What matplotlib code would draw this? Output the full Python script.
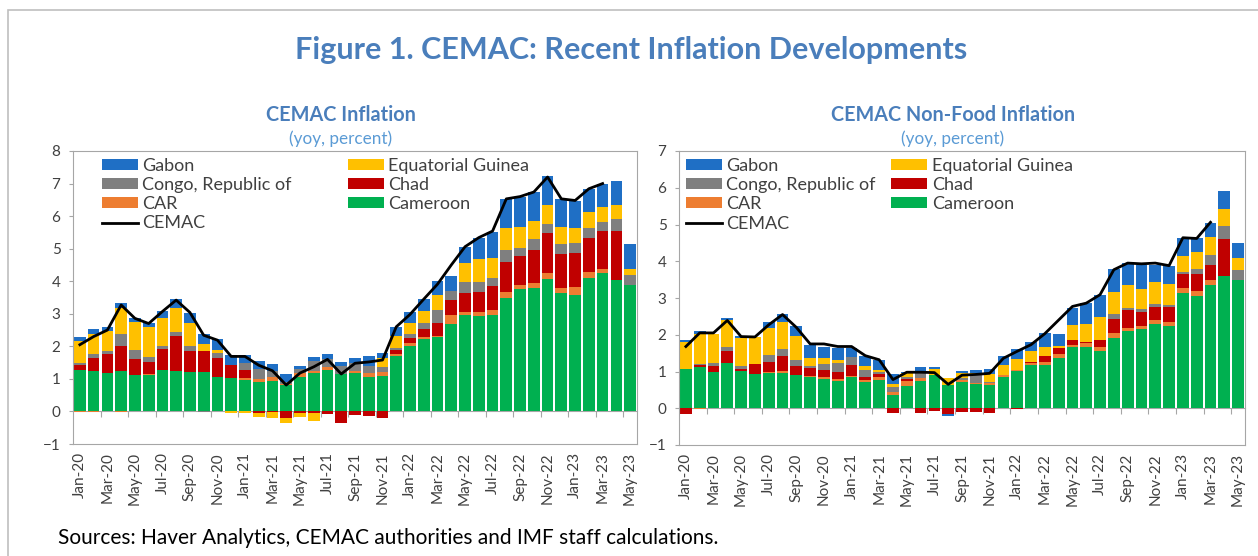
import numpy as np
import pandas as pd
import matplotlib.pyplot as plt
from matplotlib.patches import Rectangle

plt.rcParams["font.family"] = ["Lato", "DejaVu Sans"]

months = pd.date_range("2020-01-01", "2023-05-01", freq="MS").strftime("%b-%y").tolist()

series_order = ["Cameroon", "CAR", "Chad", "Congo, Republic of", "Equatorial Guinea", "Gabon"]
colors = {
    "Cameroon": "#00B050",
    "CAR": "#ED7D31",
    "Chad": "#C00000",
    "Congo, Republic of": "#7F7F7F",
    "Equatorial Guinea": "#FFC000",
    "Gabon": "#1F6FC5",
}

# headline inflation contributions (yoy, percent)
headline_cameroon = [1.28, 1.23, 1.18, 1.23, 1.13, 1.13, 1.28, 1.25, 1.2, 1.2, 1.07, 1.02, 0.96, 0.9, 0.95,
                     0.8, 1.07, 1.18, 1.27, 1.15, 1.18, 1.07, 1.09, 1.69, 2.01, 2.24, 2.29, 2.68, 2.95, 2.93,
                     2.95, 3.5, 3.77, 3.8, 4.06, 3.65, 3.57, 4.11, 4.24, 4.04, 3.88]
headline_car = [-0.02, -0.02, 0, -0.02, 0, 0.03, 0, 0, 0, 0, 0, 0, 0.08, 0.11, 0.1, 0.05, 0.1, 0.07, 0.08, 0,
                0.07, 0.1, 0.11, 0.06, 0.09, 0.06, 0.04, 0.27, 0.11, 0.11, 0.17, 0.17, 0.11, 0.16, 0.18, 0.15,
                0.26, 0.18, 0.15, 0, 0]
headline_chad = [0.14, 0.4, 0.58, 0.78, 0.47, 0.37, 0.65, 1.07, 0.66, 0.66, 0.57, 0.41, 0.24, -0.06, -0.03,
                 -0.2, -0.05, -0.04, -0.08, -0.36, -0.1, -0.15, -0.2, 0.13, 0.16, 0.22, 0.4, 0.48, 0.59, 0.63,
                 0.73, 0.92, 0.88, 1.0, 1.23, 1.03, 1.03, 1.05, 1.15, 1.5, 0]
headline_congo = [0.06, 0.13, 0.1, 0.36, 0.29, 0.15, 0.07, 0.12, 0.14, -0.02, 0.15, 0, 0.22, 0.3, 0.2, 0.05,
                  0.13, 0.3, 0.25, 0.25, 0.25, 0.23, 0.15, 0.08, 0.11, 0.21, 0.39, 0.27, 0.33, 0.31, 0.26,
                  0.37, 0.27, 0.33, 0.28, 0.3, 0.32, 0.3, 0.28, 0.38, 0.3]
headline_eqg = [0.67, 0.61, 0.61, 0.82, 0.86, 0.9, 0.88, 0.75, 0.73, 0.21, 0.1, -0.05, -0.05, -0.12, -0.17,
                -0.15, -0.12, -0.24, 0, 0, 0, 0, 0.3, 0.36, 0.36, 0.36, 0.45, 0, 0.59, 0.71, 0.61, 0.68,
                0.65, 0.56, 0.58, 0.55, 0.46, 0.48, 0.47, 0.41, 0.21]
headline_gabon = [0.13, 0.16, 0.13, 0.13, 0.13, 0.15, 0.21, 0.26, 0.29, 0.3, 0.33, 0.31, 0.23, 0.25, 0.2,
                  0.25, 0.1, 0.11, 0.16, 0.12, 0.15, 0.3, 0.16, 0.26, 0.31, 0.36, 0.44, 0.46, 0.49, 0.65,
                  0.79, 0.89, 0.92, 0.89, 0.9, 0.85, 0.82, 0.72, 0.71, 0.75, 0.74]
headline_cemac = [2.05, 2.3, 2.5, 3.27, 2.86, 2.7, 3.07, 3.42, 3.04, 2.34, 2.19, 1.69, 1.69, 1.42, 1.25,
                  0.81, 1.18, 1.37, 1.6, 1.15, 1.48, 1.52, 1.58, 2.6, 2.98, 3.45, 3.91, 4.5, 5.06, 5.34,
                  5.54, 6.53, 6.6, 6.74, 7.2, 6.53, 6.48, 6.84, 7.0, np.nan, np.nan]

# non-food inflation contributions (yoy, percent)
nonfood_cameroon = [1.06, 1.11, 0.99, 1.23, 1.01, 0.94, 0.95, 0.95, 0.91, 0.85, 0.8, 0.73, 0.85, 0.71, 0.76,
                    0.36, 0.61, 0.73, 0.91, 0.63, 0.72, 0.65, 0.62, 0.85, 1.02, 1.17, 1.18, 1.36, 1.66,
                    1.68, 1.57, 1.91, 2.11, 2.15, 2.3, 2.25, 3.14, 3.05, 3.36, 3.61, 3.5]
nonfood_car = [0, -0.02, 0, 0, 0, 0, 0.04, 0.07, 0, 0.04, 0.06, 0.07, 0.04, 0.06, 0.09, 0.07, 0.12, 0.09, 0,
               0, 0.06, 0.05, 0.07, 0.05, 0.02, 0.05, 0.07, 0.12, 0.06, 0.09, 0.11, 0.15, 0.07, 0.08, 0.11,
               0.09, 0.13, 0.15, 0.12, 0, 0]
nonfood_chad = [-0.15, 0.06, 0.15, 0.34, 0.05, 0.26, 0.28, 0.39, 0.24, 0.2, 0.19, 0.2, 0.29, 0.08, 0.09,
                -0.14, 0.06, -0.14, -0.08, -0.16, -0.1, -0.1, -0.12, 0, -0.02, 0.05, 0.16, 0.16, 0.13, 0.04,
                0.18, 0.38, 0.48, 0.38, 0.34, 0.41, 0.37, 0.46, 0.43, 1.0, 0]
nonfood_congo = [0, 0.03, 0.09, 0.11, 0.09, 0, 0.18, 0.2, 0.17, 0.05, 0.16, 0.23, 0.21, 0.2, 0.06, 0.16,
                 0.07, 0.13, 0, 0, 0.05, 0.2, 0.03, 0, 0, 0, 0, 0, 0, 0, 0, 0.13, 0.07, 0.09, 0.1, 0.07,
                 0.06, 0.13, 0.27, 0.34, 0.25]
nonfood_eqg = [0.73, 0.83, 0.79, 0.71, 0.76, 0.73, 0.73, 0.75, 0.65, 0.24, 0.17, 0.09, 0, 0.09, 0.04, 0.07,
               0.09, 0, 0.15, 0.2, 0.12, 0.07, 0.2, 0.28, 0.31, 0.28, 0.25, 0.05, 0.42, 0.49, 0.62, 0.58,
               0.62, 0.55, 0.58, 0.56, 0.45, 0.46, 0.48, 0.46, 0.34]
nonfood_gabon = [0.07, 0.06, 0, 0.06, 0.06, 0, 0.16, 0.21, 0.26, 0.34, 0.3, 0.32, 0.25, 0.27, 0.28, 0.28,
                 0.05, 0.17, 0.06, -0.06, 0.06, 0.08, 0.14, 0.23, 0.26, 0.25, 0.39, 0.33, 0.46, 0.56, 0.61,
                 0.64, 0.59, 0.66, 0.48, 0.48, 0.47, 0.37, 0.39, 0.5, 0.41]
nonfood_cemac = [1.68, 2.05, 2.05, 2.39, 1.95, 1.94, 2.27, 2.55, 2.2, 1.75, 1.75, 1.68, 1.68, 1.43, 1.32,
                 0.78, 0.98, 0.98, 0.97, 0.65, 0.9, 0.92, 0.95, 1.36, 1.55, 1.73, 2.03, 2.4, 2.77, 2.86,
                 3.09, 3.77, 3.95, 3.93, 3.95, 3.88, 4.64, 4.62, 5.06, np.nan, np.nan]

headline = dict(zip(series_order, [headline_cameroon, headline_car, headline_chad, headline_congo,
                                   headline_eqg, headline_gabon]))
nonfood = dict(zip(series_order, [nonfood_cameroon, nonfood_car, nonfood_chad, nonfood_congo,
                                  nonfood_eqg, nonfood_gabon]))

TITLE_BLUE = "#4A7EBB"
SUB_BLUE = "#5B9BD5"
GRID_GRAY = "#A6A6A6"
TEXT_GRAY = "#404040"


def draw_panel(ax, data, cemac, ymax, legend_x, legend_spacing):
    x = np.arange(len(months))
    pos_bottom = np.zeros(len(x))
    neg_bottom = np.zeros(len(x))
    handles = {}
    for name in series_order:
        vals = np.array(data[name], dtype=float)
        bottom = np.where(vals >= 0, pos_bottom, neg_bottom)
        handles[name] = ax.bar(x, vals, bottom=bottom, width=0.85, color=colors[name], zorder=2)
        pos_bottom += np.clip(vals, 0, None)
        neg_bottom += np.clip(vals, None, 0)
    line, = ax.plot(x, cemac, color="black", lw=2, zorder=3)

    ax.set_xlim(-0.5, len(x) - 0.5)
    ax.set_ylim(-1, ymax)
    ax.set_yticks(range(-1, ymax + 1))
    ax.set_xticks(x[::2])
    ax.set_xticklabels(months[::2], rotation=90)
    ax.tick_params(axis="x", length=0, labelsize=11, labelcolor=TEXT_GRAY, pad=6)
    ax.tick_params(axis="y", length=3, color=GRID_GRAY, labelsize=11, labelcolor=TEXT_GRAY, pad=6)
    for spine in ax.spines.values():
        spine.set_color(GRID_GRAY)

    # category axis crossing at zero
    zero_axis = ax.secondary_xaxis(1 / (ymax + 1))
    zero_axis.set_xticks(np.arange(1.5, len(x) - 1, 2))
    zero_axis.set_xticklabels([])
    zero_axis.tick_params(direction="out", length=4, color=GRID_GRAY)
    zero_axis.spines["bottom"].set_color(GRID_GRAY)
    zero_axis.spines["top"].set_visible(False)

    order = [handles["Gabon"], handles["Congo, Republic of"], handles["CAR"], line,
             handles["Equatorial Guinea"], handles["Chad"], handles["Cameroon"]]
    labels = ["Gabon", "Congo, Republic of", "CAR", "CEMAC", "Equatorial Guinea", "Chad", "Cameroon"]
    leg = ax.legend(order, labels, ncol=2, loc="upper left", bbox_to_anchor=(legend_x, 0.977),
                    frameon=False, fontsize=13, handlelength=2.0, handleheight=0.55,
                    handletextpad=0.25, labelspacing=0.18, columnspacing=legend_spacing,
                    borderaxespad=0, borderpad=0)
    for t in leg.get_texts():
        t.set_color(TEXT_GRAY)


fig = plt.figure(figsize=(12.58, 5.56), dpi=100)

ax1 = fig.add_axes([73 / 1258, 1 - 444 / 556, 564 / 1258, 293 / 556])
ax2 = fig.add_axes([679 / 1258, 1 - 445 / 556, 566 / 1258, 294 / 556])

draw_panel(ax1, headline, headline_cemac, 8, 0.051, 3.1)
draw_panel(ax2, nonfood, nonfood_cemac, 7, 0.012, 0.85)

fig.text(0.5016, 0.910, "Figure 1. CEMAC: Recent Inflation Developments", ha="center", va="center",
         fontsize=22, fontweight="bold", color=TITLE_BLUE)
fig.text(0.271, 0.794, "CEMAC Inflation", ha="center", va="center", fontsize=14.3,
         fontweight="bold", color=TITLE_BLUE)
fig.text(0.271, 0.751, "(yoy, percent)", ha="center", va="center", fontsize=12.3, color=SUB_BLUE)
fig.text(0.7576, 0.794, "CEMAC Non-Food Inflation", ha="center", va="center", fontsize=14.2,
         fontweight="bold", color=TITLE_BLUE)
fig.text(0.7576, 0.751, "(yoy, percent)", ha="center", va="center", fontsize=12.3, color=SUB_BLUE)
fig.text(0.046, 0.032, "Sources: Haver Analytics, CEMAC authorities and IMF staff calculations.",
         ha="left", va="center", fontsize=15, color="black")

fig.patches.append(Rectangle((8 / 1258, -0.1), 1.2, 1.1 - 10 / 556, transform=fig.transFigure,
                             fill=False, edgecolor="#BFBFBF", lw=1.2))

fig.savefig("out.png", dpi=100)
